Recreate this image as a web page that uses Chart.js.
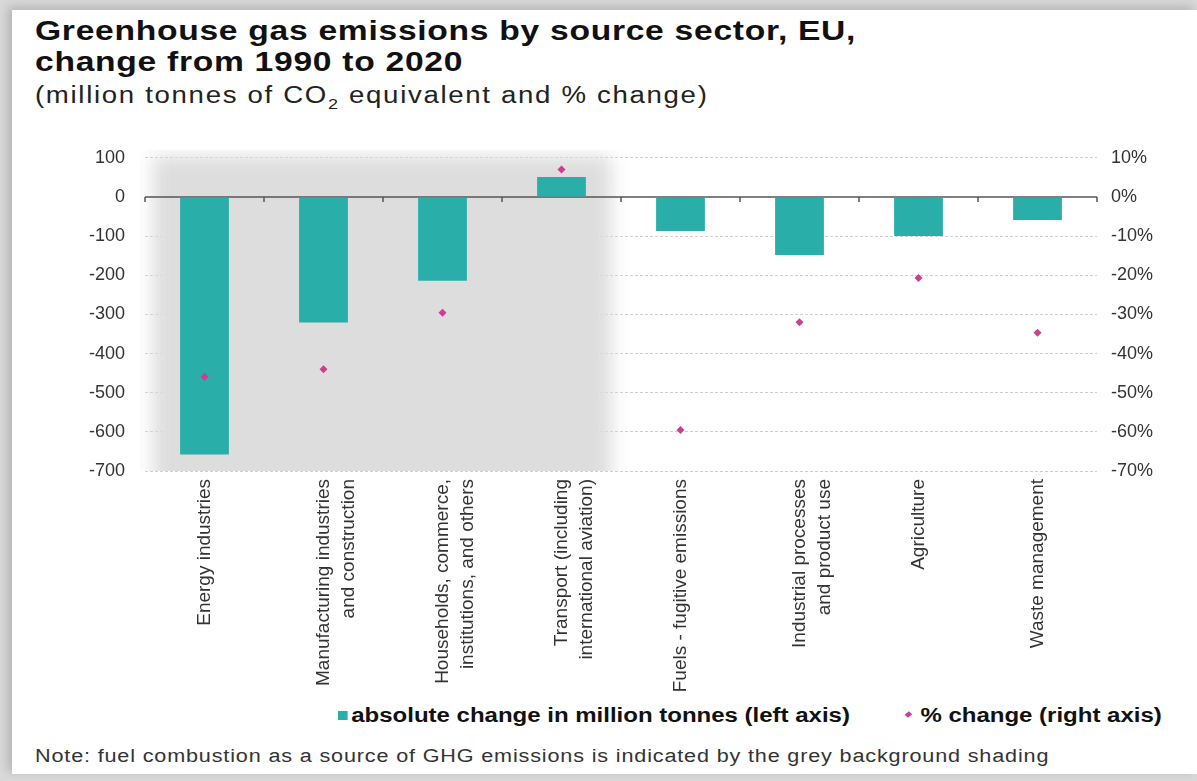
<!DOCTYPE html>
<html>
<head>
<meta charset="utf-8">
<script src="https://cdn.jsdelivr.net/npm/chart.js@4.4.1/dist/chart.umd.min.js"></script>
<style>
  body { margin: 0; background: #d9d9d9; font-family: "Liberation Sans", Arial, sans-serif; }
  .card {
    position: absolute; left: 12px; top: 10px; width: 1185px; height: 764px;
    background: #fff; box-shadow: -4px -3px 10px rgba(0,0,0,0.18);
  }
  .wide { transform: scaleX(1.2); transform-origin: left top; white-space: nowrap; }
  .title { position: absolute; left: 35px; top: 15px; font-size: 28px; font-weight: bold; color: #111; line-height: 31px; letter-spacing: 0.6px; }
  .subtitle { position: absolute; left: 35px; top: 82px; font-size: 23px; color: #222; letter-spacing: 1.4px; }
  .subtitle sub { font-size: 15px; }
  .chart-box { position: absolute; left: 0; top: 127px; width: 1197px; height: 568px; }
  .legend { position: absolute; top: 704px; font-size: 20px; font-weight: bold; color: #111; }
  .legend .sq { display: inline-block; width: 8px; height: 9px; background: #2aaeaa; margin-right: 3px; vertical-align: 2px; }
  .legend .dm { display: inline-block; width: 4px; height: 5px; background: #cc3d93; transform: rotate(45deg); margin-right: 8px; vertical-align: 5px; }
  .note { position: absolute; left: 35px; top: 746px; font-size: 18px; color: #333; letter-spacing: 0.7px; }
</style>
</head>
<body>
<div class="card"></div>
<div class="title wide">Greenhouse gas emissions by source sector, EU,<br>change from 1990 to 2020</div>
<div class="subtitle wide">(million tonnes of CO<sub>2</sub> equivalent and % change)</div>
<div class="chart-box"><canvas id="myChart" width="1197" height="568"></canvas></div>
<div class="legend wide" style="left:338px"><span class="sq"></span>absolute change in million tonnes (left axis)</div>
<div class="legend wide" style="left:906px"><span class="dm"></span>% change (right axis)</div>
<div class="note wide">Note: fuel combustion as a source of GHG emissions is indicated by the grey background shading</div>

<script>
// data

let sectors = [
    'Energy industries',
    ['Manufacturing industries', 'and construction'],
    ['Households, commerce,', 'institutions, and others'],
    ['Transport (including', 'international aviation)'],
    'Fuels - fugitive emissions',
    ['Industrial processes', 'and product use'],
    'Agriculture',
    'Waste management'
];
let abs_change = [-658, -321, -214, 51, -87, -148, -100, -59];
let pct_change = [-45.9, -44.0, -29.6, 7.0, -59.5, -32.0, -20.7, -34.7];
let shaded_count = 4; // fuel combustion sectors

let teal = '#2aaeaa';
let magenta = '#cc3d93';

// grey background for the fuel combustion sectors

const shadingPlugin = {
    id: 'shading',
    beforeDatasetsDraw(chart) {
        const x = chart.scales.x, y = chart.scales.y, c = chart.ctx;
        const top = y.getPixelForValue(100);
        const left = x.getPixelForValue(-0.5) + 8;
        const right = x.getPixelForValue(shaded_count - 0.5) - 10;
        c.save();
        c.beginPath();
        c.rect(chart.chartArea.left - 5, top - 8, right - chart.chartArea.left + 30, chart.chartArea.bottom - top + 8);
        c.clip();
        c.filter = 'blur(9px)';
        c.fillStyle = '#dddddd';
        c.fillRect(left, top - 2, right - left, chart.chartArea.bottom - top + 20);
        c.restore();
    }
};

// zero line with tick marks between categories

const zeroLinePlugin = {
    id: 'zeroLine',
    beforeDatasetsDraw(chart) {
        const x = chart.scales.x, y = chart.scales.y, c = chart.ctx;
        const y0 = y.getPixelForValue(0);
        c.save();
        c.strokeStyle = '#555';
        c.lineWidth = 1.5;
        c.beginPath();
        c.moveTo(chart.chartArea.left, y0);
        c.lineTo(chart.chartArea.right, y0);
        for (let i = 0; i <= sectors.length; i++) {
            let px = x.getPixelForValue(i - 0.5);
            c.moveTo(px, y0);
            c.lineTo(px, y0 + 5);
        }
        c.stroke();
        c.restore();
    }
};

const ctx = document.getElementById('myChart').getContext('2d');
const myChart = new Chart(ctx, {
    type: 'bar',
    data: {
        labels: sectors,
        datasets: [{
            type: 'line',
            label: '% change (right axis)',
            data: pct_change,
            yAxisID: 'y1',
            showLine: false,
            pointStyle: 'rectRot',
            pointRadius: 4,
            backgroundColor: magenta,
            borderColor: magenta,
            borderWidth: 0,
            order: 0
        }, {
            label: 'absolute change in million tonnes (left axis)',
            data: abs_change,
            yAxisID: 'y',
            backgroundColor: teal,
            categoryPercentage: 1,
            barPercentage: 0.41,
            order: 1
        }]
    },
    options: {
        responsive: false,
        animation: false,
        layout: { padding: { left: 35, right: 0, top: 4, bottom: 0 } },
        plugins: {
            legend: { display: false },
            tooltip: { enabled: false }
        },
        scales: {
            x: {
                grid: { display: false },
                border: { display: false },
                ticks: {
                    color: '#333',
                    font: { family: 'Liberation Sans', size: 19, lineHeight: 1.35 },
                    minRotation: 90,
                    maxRotation: 90,
                    autoSkip: false,
                    padding: 0
                },
                afterFit: (s) => { s.height = 224; }
            },
            y: {
                position: 'left',
                min: -700,
                max: 100,
                ticks: {
                    stepSize: 100,
                    color: '#333',
                    font: { family: 'Liberation Sans', size: 18 },
                    padding: 20
                },
                grid: {
                    color: (c) => c.tick.value === 0 ? 'rgba(0,0,0,0)' : '#cfcfcf',
                    drawTicks: false,
                    lineWidth: 1
                },
                border: { display: false, dash: [3, 2] },
                afterFit: (s) => { s.width = 110; }
            },
            y1: {
                position: 'right',
                min: -70,
                max: 10,
                ticks: {
                    stepSize: 10,
                    color: '#333',
                    font: { family: 'Liberation Sans', size: 18 },
                    padding: 14,
                    callback: (v) => v + '%'
                },
                grid: { display: false, drawTicks: false },
                border: { display: false },
                afterFit: (s) => { s.width = 100; }
            }
        }
    },
    plugins: [shadingPlugin, zeroLinePlugin]
});
</script>
</body>
</html>
